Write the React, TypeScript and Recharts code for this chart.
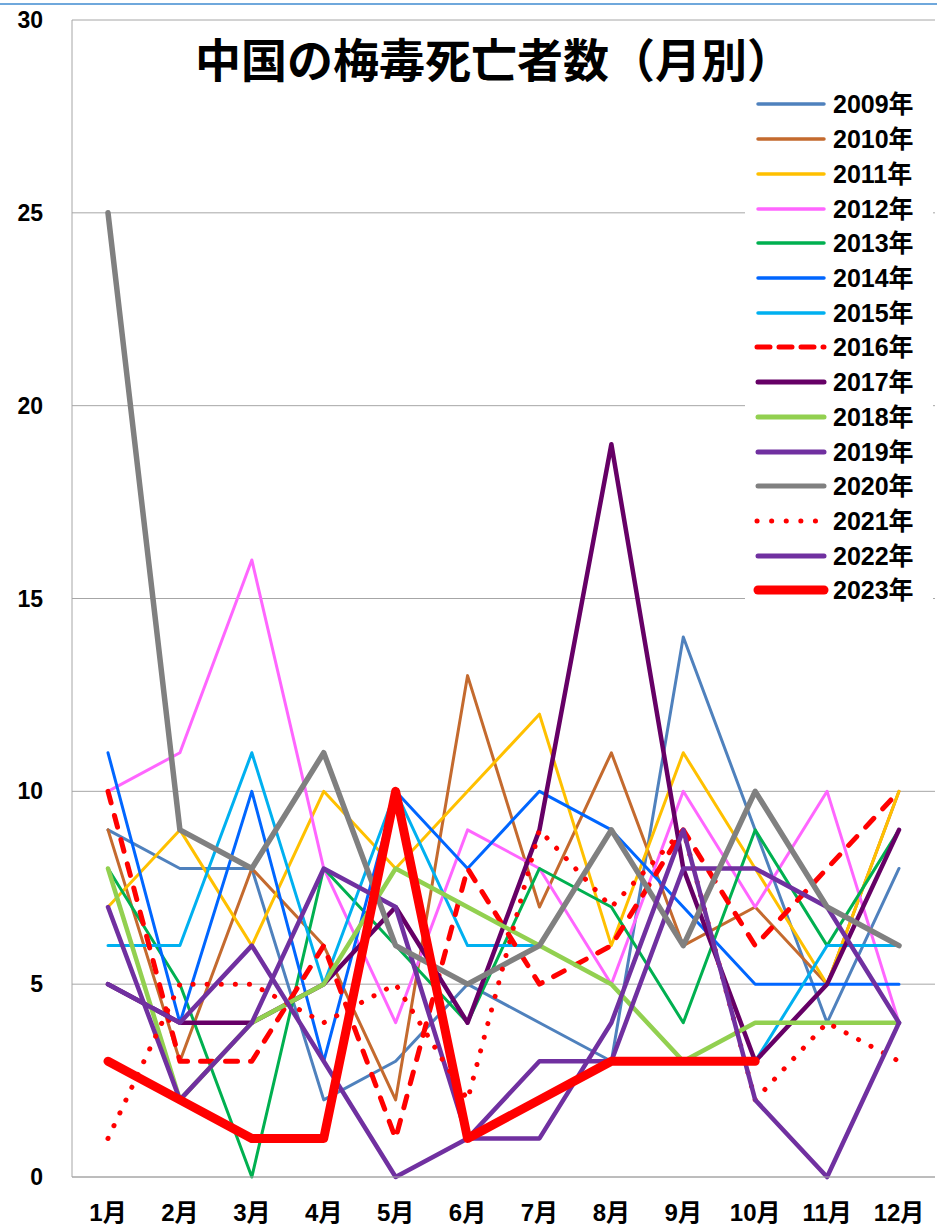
import React from 'react';
import { LineChart, Line, XAxis, YAxis, CartesianGrid } from 'recharts';

const months = ['1月', '2月', '3月', '4月', '5月', '6月', '7月', '8月', '9月', '10月', '11月', '12月'];
const yTicks = [0, 5, 10, 15, 20, 25, 30];

const y2009 = [9, 8, 8, 2, 3, 5, 4, 3, 14, 9, 4, 8];
const y2010 = [9, 3, 8, 6, 2, 13, 7, 11, 6, 7, 5, 10];
const y2011 = [7, 9, 6, 10, 8, 10, 12, 6, 11, 8, 5, 10];
const y2012 = [10, 11, 16, 8, 4, 9, 8, 5, 10, 7, 10, 4];
const y2013 = [8, 5, 0, 8, 6, 4, 8, 7, 4, 9, 6, 9];
const y2014 = [11, 4, 10, 3, 10, 8, 10, 9, 7, 5, 5, 5];
const y2015 = [6, 6, 11, 5, 10, 6, 6, null, null, 3, 6, 6];
const y2016 = [10, 3, 3, 6, 1, 8, 5, 6, 9, 6, 8, 10];
const y2017 = [5, 4, 4, 5, 7, 4, 9, 19, 8, 3, 5, 9];
const y2018 = [8, 2, 4, 5, 8, 7, 6, 5, 3, 4, 4, 4];
const y2019 = [7, 2, 4, 8, 7, 1, 3, 3, 8, 8, 7, 4];
const y2020 = [25, 9, 8, 11, 6, 5, 6, 9, 6, 10, 7, 6];
const y2021 = [1, 5, 5, 4, 5, 2, 9, 7, 9, 2, 4, 3];
const y2022 = [5, 4, 6, 3, 0, 1, 1, 4, 9, 2, 0, 4];
const y2023 = [3, 2, 1, 1, 10, 1, 2, 3, 3, 3, null, null];

const seriesValues: Record<string, (number | null)[]> = {
  y2009, y2010, y2011, y2012, y2013, y2014, y2015, y2016, y2017, y2018, y2019, y2020, y2021, y2022, y2023,
};

type S = { key: string; name: string; color: string; width: number; dash?: string };
const series: S[] = [
  { key: 'y2009', name: '2009年', color: '#4F81BD', width: 3 },
  { key: 'y2010', name: '2010年', color: '#C46A2E', width: 3 },
  { key: 'y2011', name: '2011年', color: '#FFC000', width: 3 },
  { key: 'y2012', name: '2012年', color: '#FF66FF', width: 3 },
  { key: 'y2013', name: '2013年', color: '#00B050', width: 3 },
  { key: 'y2014', name: '2014年', color: '#0066FF', width: 3 },
  { key: 'y2015', name: '2015年', color: '#00B0F0', width: 3 },
  { key: 'y2016', name: '2016年', color: '#FF0000', width: 5, dash: '12 13' },
  { key: 'y2017', name: '2017年', color: '#660066', width: 4.5 },
  { key: 'y2018', name: '2018年', color: '#92D050', width: 4.5 },
  { key: 'y2019', name: '2019年', color: '#7030A0', width: 4.5 },
  { key: 'y2020', name: '2020年', color: '#808080', width: 5.5 },
  { key: 'y2021', name: '2021年', color: '#FF0000', width: 5, dash: '0.1 14' },
  { key: 'y2022', name: '2022年', color: '#7030A0', width: 4.5 },
  { key: 'y2023', name: '2023年', color: '#FF0000', width: 9 },
];

const data = months.map((m, i) => {
  const row: Record<string, any> = { month: m };
  Object.keys(seriesValues).forEach((k) => {
    row[k] = seriesValues[k][i];
  });
  return row;
});

const W = 937;
const H = 1226;
const FONT = '"Liberation Sans", "Noto Sans CJK JP", sans-serif';
const GRID = '#A6A6A6';

const YTick = (props: any) => {
  const { y, payload } = props;
  return (
    <text x={43} y={y} dy={8} textAnchor="end" fontFamily={FONT} fontWeight={700} fontSize={23} fill="#000">
      {payload.value}
    </text>
  );
};

const XTick = (props: any) => {
  const { x, y, payload } = props;
  return (
    <text x={x} y={y} dy={36} textAnchor="middle" fontFamily={FONT} fontWeight={700} fontSize={24} fill="#000">
      {payload.value}
    </text>
  );
};

const LegendSample = ({ s }: { s: S }) => {
  const lw = s.key === 'y2023' ? 9 : s.width < 4 ? 3.5 : 5;
  return (
    <svg width={76} height={14} style={{ display: 'block' }}>
      <line
        x1={s.dash ? 4 : 5}
        x2={s.dash === '0.1 14' ? 64 : 71}
        y1={7}
        y2={7}
        stroke={s.color}
        strokeWidth={lw}
        strokeLinecap="round"
        strokeDasharray={s.dash === '0.1 14' ? '0.1 14.5' : s.dash ? '13 9' : undefined}
      />
    </svg>
  );
};

export default function App() {
  return (
    <div style={{ position: 'absolute', left: 0, top: 0, width: W, height: H, background: '#fff', overflow: 'hidden' }}>
      <div style={{ position: 'absolute', left: 0, top: 3, width: W, height: 2, background: '#6FA8DC' }} />
      <LineChart width={W} height={H} data={data} margin={{ top: 20, right: 2, bottom: 0, left: 0 }}>
        <CartesianGrid vertical={false} stroke={GRID} strokeWidth={1} />
        <XAxis
          dataKey="month"
          height={49}
          padding={{ left: 36, right: 36 }}
          tickLine={false}
          axisLine={{ stroke: GRID, strokeWidth: 1 }}
          tick={<XTick />}
          interval={0}
        />
        <YAxis
          width={72}
          domain={[0, 30]}
          ticks={yTicks}
          tickLine={false}
          axisLine={{ stroke: GRID, strokeWidth: 1 }}
          tick={<YTick />}
          interval={0}
        />
        {series.map((s) => (
          <Line
            key={s.key}
            type="linear"
            dataKey={s.key}
            name={s.name}
            stroke={s.color}
            strokeWidth={s.width}
            strokeDasharray={s.dash}
            strokeLinecap="round"
            strokeLinejoin="round"
            dot={false}
            activeDot={false}
            isAnimationActive={false}
          />
        ))}
      </LineChart>
      <svg
        width={W}
        height={120}
        style={{ position: 'absolute', left: 0, top: 0, pointerEvents: 'none' }}
      >
        <text
          x={494}
          y={77}
          textAnchor="middle"
          fontFamily='"Noto Sans CJK JP", sans-serif'
          fontWeight={700}
          fontSize={46}
          fill="#000"
          textLength={598}
          lengthAdjust="spacingAndGlyphs"
        >
          中国の梅毒死亡者数（月別）
        </text>
      </svg>
      <div
        style={{
          position: 'absolute',
          left: 745,
          top: 87,
          width: 188,
          background: '#fff',
          paddingBottom: 4,
        }}
      >
        {series.map((s) => (
          <div key={s.key} style={{ height: 34.72, display: 'flex', alignItems: 'center' }}>
            <div style={{ marginLeft: 8 }}>
              <LegendSample s={s} />
            </div>
            <span
              style={{
                marginLeft: 4,
                fontFamily: FONT,
                fontWeight: 700,
                fontSize: 25,
                color: '#000',
                lineHeight: '34px',
                whiteSpace: 'nowrap',
              }}
            >
              {s.name}
            </span>
          </div>
        ))}
      </div>
    </div>
  );
}
